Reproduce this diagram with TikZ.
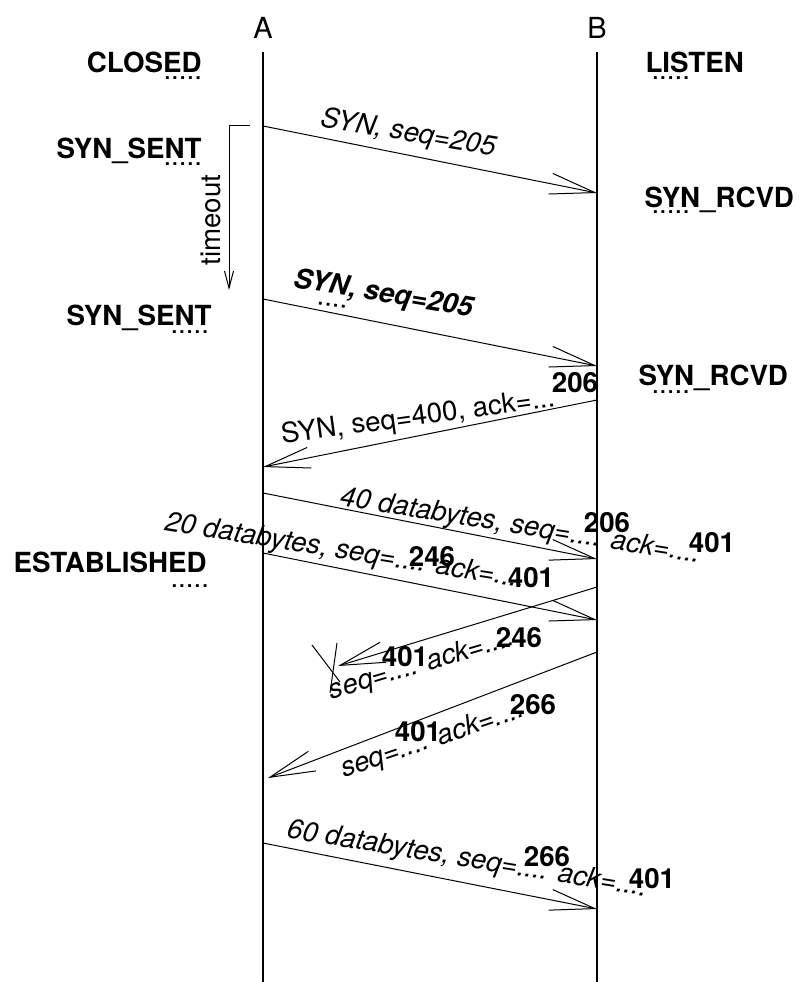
\documentclass[tikz,border=0pt]{standalone}
\usepackage{fontspec}
\setmainfont{TeX Gyre Heros}
\usetikzlibrary{arrows.meta}

\begin{document}
\begin{tikzpicture}[x=1pt,y=-1pt,line width=1pt,
    font=\fontsize{27.7}{32}\selectfont,
    state/.style={font=\fontsize{27.7}{32}\selectfont\bfseries,inner sep=0pt},
    dots/.style={inner sep=0pt,anchor=base west},
    num/.style={font=\fontsize{27.7}{32}\selectfont\bfseries,inner sep=0pt},
    lbl/.style={inner sep=0pt,anchor=base},
    msg/.style={line width=1pt,-{Straight Barb[length=45pt,width=21pt,line width=1pt]}}]
  \useasboundingbox (0,0) rectangle (798,982);
  % --- hosts and lifelines ---
  \node[inner sep=0pt,font=\fontsize{29}{32}\selectfont] (A) at (263,28) {A};
  \node[inner sep=0pt,font=\fontsize{29}{32}\selectfont] (B) at (597,28) {B};
  \coordinate (Atop) at (263,52);  \coordinate (Abot) at (263,982);
  \coordinate (Btop) at (597,52);  \coordinate (Bbot) at (597,982);
  \draw[line width=2pt] (Atop) -- (Abot);
  \draw[line width=2pt] (Btop) -- (Bbot);
  % --- states of A ---
  \node[state,anchor=base east] (closed) at (202,72) {CLOSED};
  \node[dots] at (163,79) {.....};
  \node[state,anchor=base east] (sent1) at (202,158) {SYN\_SENT};
  \node[dots] at (163,165) {.....};
  \node[state,anchor=base east] (sent2) at (212,325) {SYN\_SENT};
  \node[dots] at (170,333) {.....};
  \node[state,anchor=base east] (estab) at (207,572) {ESTABLISHED};
  \node[dots] at (170,587) {.....};
  % --- states of B ---
  \node[state,anchor=base west] (listen) at (645,72) {LISTEN};
  \node[dots] at (651,79) {.....};
  \node[state,anchor=base west] (rcvd1) at (644,207) {SYN\_RCVD};
  \node[dots] at (651,213) {.....};
  \node[state,anchor=base west] (rcvd2) at (638,385) {SYN\_RCVD};
  \node[dots] at (651,393) {.....};
  % --- end points of the segments on the lifelines ---
  \coordinate (a1) at (263,126);  \coordinate (b1) at (597,193);
  \coordinate (a2) at (263,299);  \coordinate (b2) at (597,366);
  \coordinate (b3) at (597,400);  \coordinate (a3) at (263,467);
  \coordinate (a4) at (263,493);  \coordinate (b4) at (597,559);
  \coordinate (a5) at (263,553);  \coordinate (b5) at (597,620);
  \coordinate (b6) at (597,587);  \coordinate (lost) at (338,666);
  \coordinate (b7) at (597,652);  \coordinate (a7) at (268,778);
  \coordinate (a8) at (263,843);  \coordinate (b8) at (597,909);
  % --- timeout ---
  \coordinate (t0) at (250,125);
  \coordinate (t1) at (229,290);
  \draw[-{Straight Barb[length=17pt,width=9pt,line width=1pt]}] (t0) -| (t1);
  \node[lbl,rotate=90] (timeout) at (220,220) {timeout};
  % --- segments ---
  \draw[msg] (a1) -- (b1);
  \draw[msg] (a2) -- (b2);
  \draw[msg] (b3) -- (a3);
  \draw[msg] (a4) -- (b4);
  \draw[msg] (a5) -- (b5);
  \draw[msg] (b6) -- (lost);
  \draw (312,645) -- (340,682);
  \draw (337,643) -- (330,693);
  \draw[msg] (b7) -- (a7);
  \draw[msg] (a8) -- (b8);
  % --- segment labels ---
  \node[lbl,rotate=-9.5] (l1) at (407,141) {\itshape SYN, seq=205};
  \node[lbl,rotate=-9.5,font=\fontsize{27.7}{32}\selectfont\bfseries\itshape] (l2) at (382,302) {SYN, seq=205};
  \node[dots,rotate=-9.5] at (316,304) {....};
  \node[lbl,rotate=7.7] (l3) at (419,425) {SYN, seq=400, ack=...};
  \node[num] (n3) at (575,383) {206};
  \node[lbl,rotate=-9.1] (l4) at (519,534) {\itshape 40 databytes, seq=.... ack=....};
  \node[num] (n4a) at (607,523) {206};
  \node[num] (n4b) at (712,543) {401};
  \node[lbl,rotate=-9.1] (l5) at (344,559) {\itshape 20 databytes, seq=.... ack=....};
  \node[num] (n5a) at (432,557) {246};
  \node[num] (n5b) at (531,578) {401};
  \node[lbl,rotate=16.5] (l6) at (424,672) {\itshape seq=.... ack=....};
  \node[num] (n6a) at (405,657) {401};
  \node[num] (n6b) at (519,638) {246};
  \node[lbl,rotate=18.7] (l7) at (435,747) {\itshape seq=.... ack=....};
  \node[num] (n7a) at (418,732) {401};
  \node[num] (n7b) at (533,705) {266};
  \node[lbl,rotate=-9.3] (l8) at (466,867) {\itshape 60 databytes, seq=.... ack=....};
  \node[num] (n8a) at (547,857) {266};
  \node[num] (n8b) at (652,879) {401};
\end{tikzpicture}
\end{document}
